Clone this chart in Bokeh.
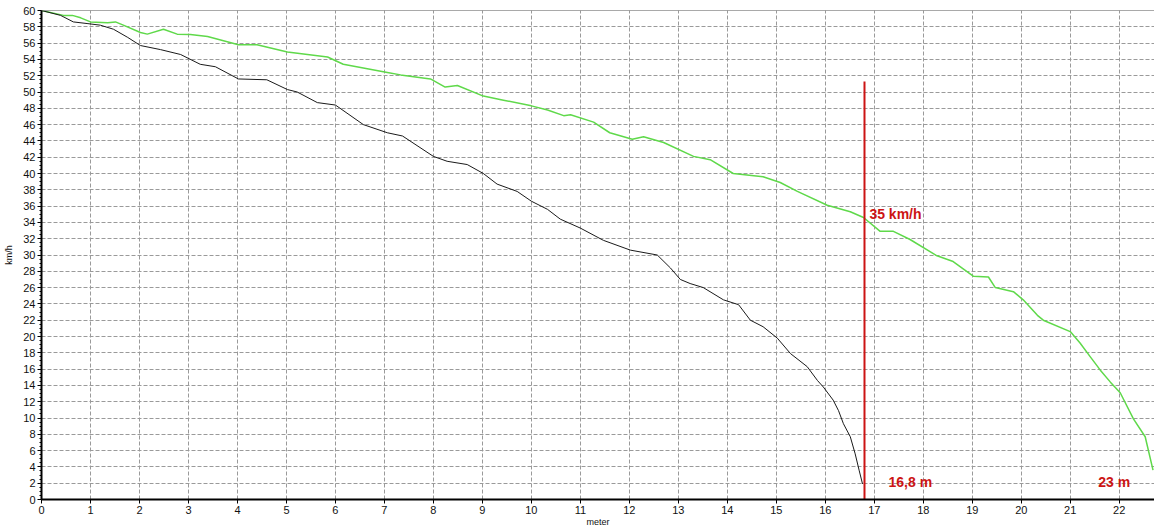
from bokeh.plotting import figure
from bokeh.models import Range1d, SingleIntervalTicker, Span
from bokeh.core.properties import value
from bokeh.embed import file_html
from bokeh.resources import INLINE

# --- data ---
black_x = [0.0, 0.39, 0.65, 0.93, 1.2, 1.47, 1.76, 2.02, 2.43, 2.84, 3.24, 3.55,
           4.02, 4.6, 5.02, 5.22, 5.63, 6.0, 6.57, 7.06, 7.37, 8.0, 8.28, 8.69,
           9.02, 9.3, 9.71, 10.0, 10.33, 10.59, 11.0, 11.47, 12.02, 12.57, 12.84,
           13.04, 13.24, 13.51, 13.92, 14.23, 14.47, 14.73, 15.02, 15.29, 15.63,
           15.84, 15.96, 16.16, 16.27, 16.37, 16.51, 16.61, 16.69, 16.76]
black_y = [60.0, 59.4, 58.6, 58.4, 58.2, 57.7, 56.7, 55.7, 55.2, 54.6, 53.4, 53.1,
           51.6, 51.5, 50.3, 50.0, 48.7, 48.4, 46.0, 45.0, 44.6, 42.1, 41.5, 41.1,
           40.0, 38.7, 37.8, 36.6, 35.6, 34.4, 33.3, 31.8, 30.6, 30.0, 28.4,
           27.0, 26.5, 26.0, 24.5, 23.9, 22.0, 21.2, 19.8, 17.9, 16.3,
           14.6, 13.8, 12.2, 10.9, 9.3, 7.7, 5.6, 3.6, 1.9]

green_x = [0.0, 0.45, 0.63, 0.8, 1.0, 1.35, 1.51, 1.67, 2.02, 2.16, 2.49, 2.77,
           3.04, 3.39, 4.02, 4.4, 5.02, 5.84, 6.16, 7.06, 7.33, 7.94, 8.24, 8.49,
           9.02, 9.43, 10.0, 10.33, 10.66, 10.8, 11.27, 11.6, 12.06, 12.29, 12.7,
           13.31, 13.65, 14.12, 14.73, 15.08, 15.43, 16.04, 16.51, 16.78, 17.12,
           17.39, 17.73, 18.28, 18.61, 19.02, 19.33, 19.47, 19.84, 20.04, 20.18,
           20.33, 20.45, 21.0, 21.2, 21.41, 21.61, 21.82, 22.02, 22.29, 22.53, 22.69]
green_y = [60.0, 59.4, 59.4, 59.1, 58.6, 58.5, 58.6, 58.2, 57.3, 57.1, 57.7, 57.1,
           57.05, 56.8, 55.8, 55.8, 54.9, 54.3, 53.4, 52.4, 52.1, 51.6, 50.6, 50.8,
           49.5, 49.0, 48.3, 47.8, 47.1, 47.2, 46.3, 45.0, 44.2, 44.5, 43.8,
           42.1, 41.7, 40.0, 39.6, 38.9, 37.8, 36.1, 35.3, 34.6, 32.9,
           32.9, 31.9, 29.9, 29.2, 27.4, 27.3, 26.0, 25.5, 24.5, 23.6,
           22.6, 22.0, 20.6, 19.2, 17.5, 15.9, 14.4, 13.1, 9.9, 7.7, 3.6]

marker_x = [16.8]
marker_top = [51.3]

note_texts = ["35 km/h", "16,8 m", "23 m"]
note_x = [16.9, 17.29, 21.57]
note_y = [35.0, 2.1, 2.2]

x_label = "meter"
y_label = "km/h"

RED = "#cc1414"
FONT = "Liberation Sans"

p = figure(width=1154, height=530, output_backend="svg", toolbar_location=None,
           x_range=Range1d(0, 22.72), y_range=Range1d(0, 60),
           min_border_left=41, min_border_right=0, min_border_top=10,
           min_border_bottom=31)
p.background_fill_color = "white"
p.border_fill_color = "white"
p.outline_line_color = None

# axes
p.xaxis.ticker = SingleIntervalTicker(interval=1, num_minor_ticks=0)
p.yaxis.ticker = SingleIntervalTicker(interval=2, num_minor_ticks=4)
for ax in (p.xaxis[0], p.yaxis[0]):
    ax.axis_line_color = "black"
    ax.axis_line_width = 2
    ax.major_tick_line_color = "black"
    ax.major_tick_in = 0
    ax.major_tick_out = 4
    ax.minor_tick_line_color = "black"
    ax.minor_tick_in = 0
    ax.minor_tick_out = 2
    ax.major_label_text_font = FONT
    ax.major_label_text_font_size = "11px"
    ax.major_label_text_color = "#111111"
    ax.major_label_standoff = 2
    ax.axis_label_text_font = FONT
    ax.axis_label_text_font_size = "9px"
    ax.axis_label_text_font_style = "normal"
    ax.axis_label_text_color = "#111111"
p.yaxis.axis_label = y_label
p.yaxis.axis_label_standoff = 6
p.xaxis.axis_label = x_label
p.xaxis.axis_label_standoff = 0

# grid
for g in (p.xgrid[0], p.ygrid[0]):
    g.grid_line_color = "#9a9a9a"
    g.grid_line_dash = "4 2"
    g.grid_line_width = 1

# top border
p.add_layout(Span(location=60, dimension="width", line_color="#555555", line_width=1))

# curves
p.line(green_x, green_y, line_color="#5fd94a", line_width=1.5)
p.line(black_x, black_y, line_color="#1a1a1a", line_width=1)

# red marker line
p.segment(x0=marker_x, y0=[0], x1=marker_x, y1=marker_top, line_color=RED, line_width=2)

# notes
p.text(x=note_x, y=note_y, text=note_texts, text_color=RED,
       text_font=value(FONT), text_font_size="14px", text_font_style="bold",
       text_baseline="middle", text_align="left")

open("out.html", "w").write(file_html(p, INLINE))
